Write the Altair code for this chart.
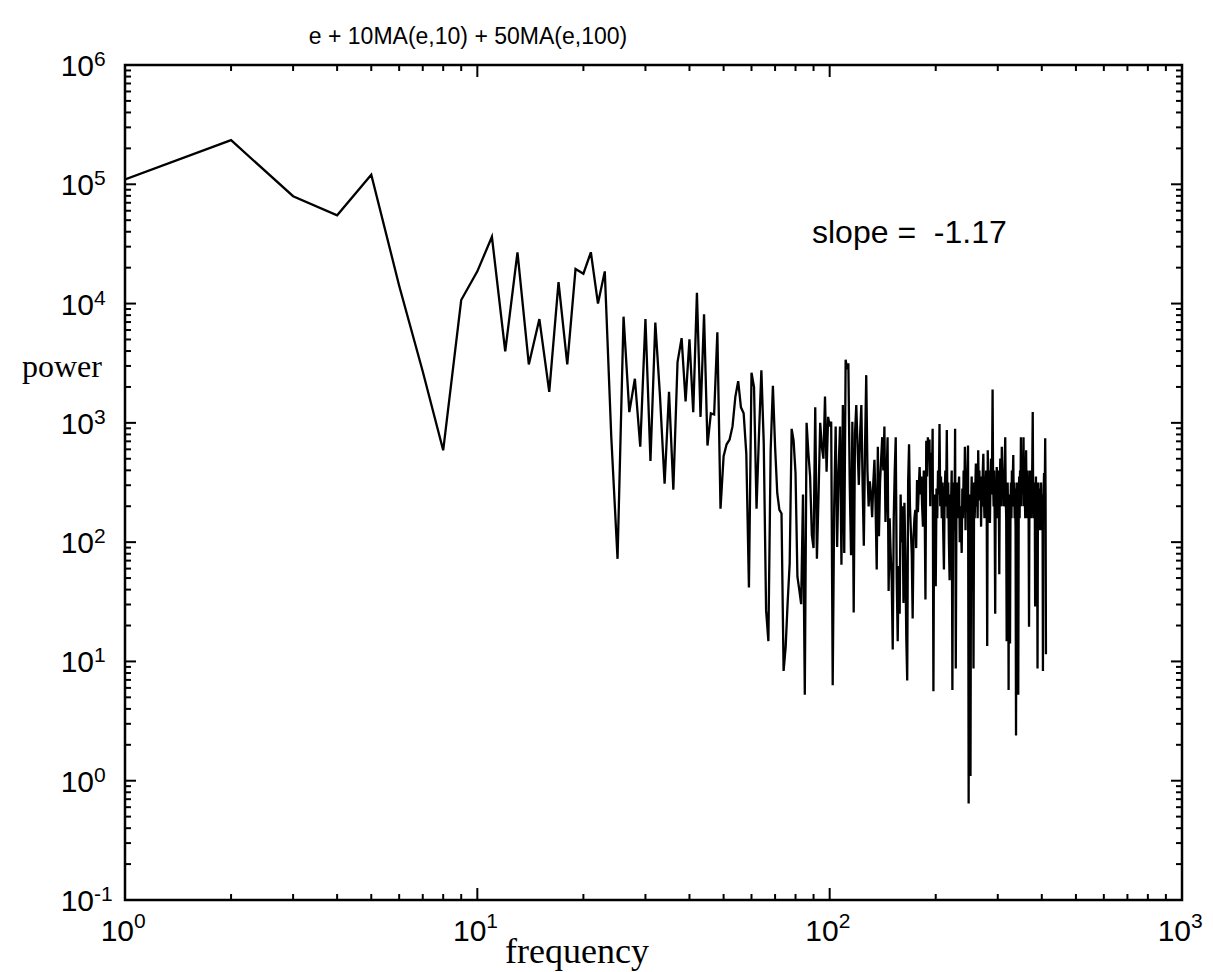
import altair as alt
import pandas as pd

# log10(power), one value per integer frequency 1..411
log_power = [
    5.04, 5.37, 4.90, 4.74, 5.08, 4.15, 3.43, 2.77, 4.03, 4.27,   # 1-10
    4.56, 3.60, 4.43, 3.49, 3.87, 3.26, 4.18, 3.49, 4.29, 4.25,   # 11-20
    4.43, 4.00, 4.27, 2.88, 1.86, 3.89, 3.09, 3.37, 2.80, 3.87,   # 21-30
    2.68, 3.84, 3.22, 2.49, 3.26, 2.44, 3.51, 3.71, 3.18, 3.70,   # 31-40
    3.09, 4.09, 3.05, 3.91, 2.81, 3.08, 3.07, 3.76, 2.28, 2.72,   # 41-50
    2.82, 2.86, 2.97, 3.22, 3.35, 3.13, 3.08, 2.74, 1.62, 3.42,   # 51-60
    3.30, 2.28, 2.90, 3.44, 2.83, 1.43, 1.17, 2.77, 3.31, 2.80,   # 61-70
    2.41, 2.27, 2.24, 0.92, 1.12, 1.50, 1.82, 2.95, 2.85, 2.58,   # 71-80
    1.71, 1.60, 1.48, 2.40, 0.72, 3.00, 2.75, 2.55, 2.06, 1.95,   # 81-90
    3.13, 1.86, 2.40, 3.00, 2.80, 2.70, 3.22, 2.59, 3.05, 2.97,   # 91-100
    3.01, 0.80, 2.30, 2.97, 1.96, 2.60, 2.97, 1.81, 3.15, 1.91,   # 101-110
    3.53, 3.45, 3.50, 2.50, 1.89, 3.01, 1.41, 2.91, 3.15, 2.80,   # 111-120
    2.48, 2.90, 3.15, 2.50, 1.97, 2.80, 3.40, 2.60, 2.30, 2.51,   # 121-130
    2.40, 2.21, 2.50, 2.69, 2.30, 1.77, 2.80, 2.05, 2.50, 2.70,   # 131-140
    2.88, 2.60, 2.97, 2.17, 2.50, 2.88, 1.59, 2.20, 1.90, 1.68,   # 141-150
    1.10, 2.20, 2.60, 2.88, 1.70, 1.17, 1.80, 1.40, 2.40, 2.00,   # 151-160
    2.30, 1.49, 2.33, 1.90, 1.20, 0.84, 2.50, 2.82, 2.30, 2.10,   # 161-170
    1.90, 1.36, 2.05, 2.20, 2.27, 1.95, 2.52, 2.25, 2.45, 2.63,   # 171-180
    2.40, 2.55, 2.30, 2.13, 2.60, 2.35, 1.52, 2.85, 2.55, 2.88,   # 181-190
    2.70, 2.86, 2.30, 2.75, 2.50, 2.95, 0.75, 2.40, 2.20, 1.63,   # 191-200
    2.45, 2.20, 2.60, 2.40, 2.99, 2.30, 2.55, 2.20, 2.50, 2.10,   # 201-210
    1.77, 2.40, 2.60, 2.30, 2.94, 2.20, 2.50, 2.00, 1.68, 2.40,   # 211-220
    2.30, 2.60, 0.76, 2.20, 2.50, 2.10, 2.95, 0.94, 2.30, 2.50,   # 221-230
    2.20, 2.40, 2.55, 2.00, 2.30, 2.10, 1.91, 2.45, 2.20, 2.60,   # 231-240
    2.35, 2.80, 2.10, 2.50, 2.25, 2.60, 2.81, -0.19, 2.40, 2.10,  # 241-250
    0.04, 2.30, 2.55, 2.00, 2.40, 0.94, 2.50, 2.20, 2.45, 2.66,   # 251-260
    2.30, 2.50, 2.20, 2.77, 2.40, 2.60, 2.35, 2.55, 2.13, 2.50,   # 261-270
    2.30, 2.60, 2.74, 2.40, 2.20, 2.55, 2.30, 2.60, 2.40, 1.13,   # 271-280
    2.77, 2.40, 2.60, 2.30, 2.16, 2.50, 2.70, 2.40, 2.60, 3.28,   # 281-290
    2.50, 2.30, 2.60, 2.20, 1.40, 2.50, 2.30, 2.63, 2.40, 2.20,   # 291-300
    2.60, 2.40, 1.73, 2.50, 2.70, 2.45, 2.30, 2.80, 2.50, 2.40,   # 301-310
    2.60, 2.30, 2.55, 2.70, 2.88, 2.40, 2.20, 1.17, 2.30, 2.50,   # 311-320
    2.20, 0.76, 2.40, 2.10, 1.15, 2.30, 2.50, 2.20, 2.60, 2.40,   # 321-330
    2.55, 2.73, 2.30, 2.50, 2.20, 2.45, 2.10, 0.38, 2.30, 2.50,   # 331-340
    2.20, 2.40, 0.72, 2.30, 2.55, 2.20, 2.60, 2.40, 2.88, 2.30,   # 341-350
    2.60, 2.40, 2.70, 2.50, 2.88, 2.30, 2.60, 2.40, 2.20, 2.55,   # 351-360
    2.77, 2.40, 2.20, 2.60, 2.30, 2.50, 2.20, 1.29, 2.40, 2.60,   # 361-370
    2.30, 2.55, 2.20, 2.50, 2.40, 2.70, 3.09, 2.40, 2.20, 2.50,   # 371-380
    2.30, 2.45, 1.46, 2.30, 2.55, 2.20, 2.40, 2.10, 0.94, 2.30,   # 381-390
    2.50, 2.20, 2.45, 2.10, 2.30, 2.38, 2.10, 2.50, 2.20, 2.40,   # 391-400
    2.10, 2.30, 0.92, 2.20, 2.45, 2.58, 2.30, 2.50, 2.87, 2.40,   # 401-410
    1.06,                                                          # 411
]

title_text = "e + 10MA(e,10) + 50MA(e,100)"
slope_text = "slope =\u00a0\u00a0-1.17"
x_title = "frequency"
y_title = "power"

y_exponents = [-1, 0, 1, 2, 3, 4, 5, 6]
x_exponents = [0, 1, 2, 3]

W, H = 1057, 835

freq = list(range(1, len(log_power) + 1))
power = [10 ** v for v in log_power]
df = pd.DataFrame({"freq": freq, "power": power})

xs = alt.Scale(type="log", domain=[1, 1000])
ys = alt.Scale(type="log", domain=[0.1, 1e6])

y_major = pd.DataFrame({"v": [10.0 ** e for e in y_exponents]})
y_minor = pd.DataFrame({"v": [k * 10.0 ** e for e in y_exponents[:-1] for k in range(2, 10)]})
x_major = pd.DataFrame({"v": [10.0 ** e for e in x_exponents]})
x_minor = pd.DataFrame({"v": [k * 10.0 ** e for e in x_exponents[:-1] for k in range(2, 10)]})

y_lab = pd.DataFrame({"v": [10.0 ** e for e in y_exponents],
                      "base": ["10"] * len(y_exponents),
                      "exp": [str(e) for e in y_exponents]})
x_lab = pd.DataFrame({"v": [10.0 ** e for e in x_exponents],
                      "base": ["10"] * len(x_exponents),
                      "exp": [str(e) for e in x_exponents]})

SANS = "Liberation Sans"
SERIF = "Liberation Serif"

line = alt.Chart(df).mark_line(color="black", strokeWidth=2.3, clip=True).encode(
    x=alt.X("freq:Q", scale=xs, axis=None),
    y=alt.Y("power:Q", scale=ys, axis=None),
)

def yticks(data, x1, x2):
    return alt.Chart(data).mark_rule(color="black", strokeWidth=2).encode(
        y=alt.Y("v:Q", scale=ys, axis=None), x=alt.value(x1), x2=alt.value(x2))

def xticks(data, y1, y2):
    return alt.Chart(data).mark_rule(color="black", strokeWidth=2).encode(
        x=alt.X("v:Q", scale=xs, axis=None), y=alt.value(y1), y2=alt.value(y2))

ticks = [
    yticks(y_major, 0, 11), yticks(y_minor, 0, 6),
    yticks(y_major, W, W - 11), yticks(y_minor, W, W - 6),
    xticks(x_major, H, H - 12), xticks(x_minor, H, H - 6),
    xticks(x_major, 0, 12), xticks(x_minor, 0, 6),
]

frame = alt.Chart(pd.DataFrame({"a": [0]})).mark_rect(
    fill=None, stroke="black", strokeWidth=2.5
).encode(x=alt.value(0), x2=alt.value(W), y=alt.value(0), y2=alt.value(H))

ylab_base = alt.Chart(y_lab).mark_text(
    align="right", baseline="alphabetic", font=SANS, fontSize=30, dy=11
).encode(y=alt.Y("v:Q", scale=ys, axis=None), x=alt.value(-31), text="base:N")
ylab_exp = alt.Chart(y_lab).mark_text(
    align="left", baseline="alphabetic", font=SANS, fontSize=21, dy=1
).encode(y=alt.Y("v:Q", scale=ys, axis=None), x=alt.value(-31), text="exp:N")

xlab_base = alt.Chart(x_lab).mark_text(
    align="right", baseline="alphabetic", font=SANS, fontSize=30, dx=9
).encode(x=alt.X("v:Q", scale=xs, axis=None), y=alt.value(876), text="base:N")
xlab_exp = alt.Chart(x_lab).mark_text(
    align="left", baseline="alphabetic", font=SANS, fontSize=21, dx=9
).encode(x=alt.X("v:Q", scale=xs, axis=None), y=alt.value(863), text="exp:N")

def label(text, x, y, size, font, align="left"):
    return alt.Chart(pd.DataFrame({"t": [text]})).mark_text(
        align=align, baseline="alphabetic", font=font, fontSize=size, color="black"
    ).encode(x=alt.value(x), y=alt.value(y), text="t:N")

texts = [
    label(title_text, 343, -21, 23, SANS, "center"),
    label(slope_text, 687, 178, 32, SANS, "left"),
    label(y_title, -103, 312, 32, SERIF, "left"),
    label(x_title, 452, 898, 36, SERIF, "center"),
]

chart = alt.layer(
    line, frame, *ticks, ylab_base, ylab_exp, xlab_base, xlab_exp, *texts
).properties(
    width=W, height=H,
    padding={"left": 125, "top": 65, "right": 31, "bottom": 72},
    autosize=alt.AutoSizeParams(type="none"),
    background="white",
).configure_view(stroke=None)

chart.save("out.html", embed_options={"renderer": "svg", "actions": False})
